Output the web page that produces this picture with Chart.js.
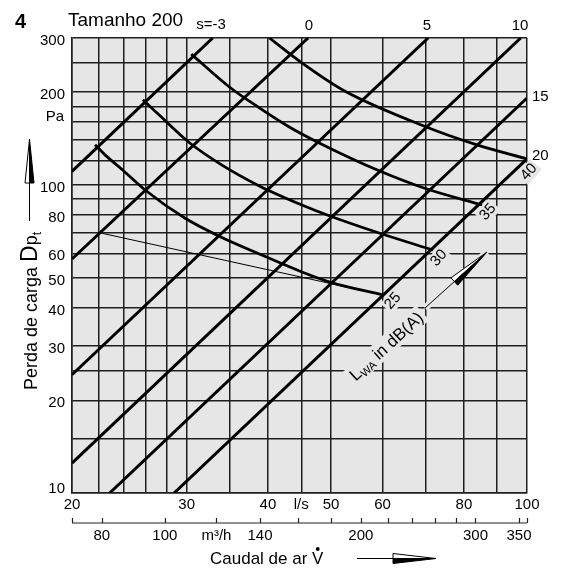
<!DOCTYPE html>
<html>
<head>
<meta charset="utf-8">
<script src="https://cdn.jsdelivr.net/npm/chart.js@4.4.1/dist/chart.umd.min.js"></script>
<style>
  body { margin: 0; background: #fff; }
  canvas { display: block; }
</style>
</head>
<body>
<canvas id="c" width="561" height="568"></canvas>
<script>
// grid lines (l/s, Pa)
const xGrid = [20, 22, 24, 26, 28, 30, 35, 40, 45, 50, 60, 70, 80, 90, 100];
const yGrid = [10, 15, 20, 25, 30, 40, 50, 60, 70, 80, 90, 100, 120, 140, 160, 180, 200, 250, 300];
const xLabels = [20, 30, 40, 50, 60, 80, 100];
const yLabels = [10, 20, 30, 40, 50, 60, 80, 100, 200, 300];
// second axis in m3/h
const m3hTicks = [72, 80, 100, 120, 140, 160, 180, 200, 220, 240, 260, 280, 300, 350, 360];
const m3hLabels = [80, 100, 140, 200, 300, 350];

const sLabels = ['s=-3', '0', '5', '10', '15', '20'];
const sM3 = [[20, 110.7], [32.9, 300]];
const s0 = [[20, 57.5], [46.1, 300]];
const s5 = [[20, 24.2], [70.5, 300]];
const s10 = [[20, 12.5], [97.8, 300]];
const s15 = [[22.85, 10], [100, 191.6]];
const s20 = [[28.7, 10], [100, 121.5]];

// LWA curves
const lwaLabels = ['25', '30', '35', '40'];
const lwa25 = [[21.7, 135], [22.5, 125], [23.9, 112], [25.9, 96.3], [29.8, 78.1], [33.6, 68.3], [38.8, 59.7], [45.1, 52.2], [49.8, 48.4], [60.1, 43.9]];
const lwa30 = [[25.7, 189], [27.2, 169], [30.2, 137.9], [34.0, 116], [38.8, 99.3], [45.1, 86.1], [49.8, 79.3], [59.9, 69.3], [71.7, 61.5]];
const lwa35 = [[30.5, 266], [34.9, 208], [38.8, 178], [43.2, 154], [47.6, 138], [59.4, 111], [70.2, 97], [85.3, 86.1]];
const lwa40 = [[40.2, 300], [45.1, 249], [52.2, 203], [70.2, 154], [83.8, 135], [100, 121.5]];
const thinLine = [[22.1, 69.9], [60.1, 43.9]];

const FONT = "'Liberation Sans', Arial, sans-serif";
const BG = '#e6e6e6';
const GRID = '#1e1e1e';

const pts = a => a.map(p => ({ x: p[0], y: p[1] }));
const line = (d, w) => ({ data: pts(d), showLine: true, pointRadius: 0, borderColor: '#000', borderWidth: w, fill: false });
const curve = d => Object.assign(line(d, 2.8), { cubicInterpolationMode: 'monotone' });

function txt(ctx, s, x, y, size, align, weight) {
  ctx.font = (weight || '') + ' ' + size + 'px ' + FONT;
  ctx.textAlign = align || 'center';
  ctx.textBaseline = 'middle';
  ctx.fillStyle = '#000';
  ctx.fillText(s, x, y);
}

function rotNum(ctx, s, x, y, ang, bgOnly) {
  ctx.save();
  ctx.translate(x, y);
  ctx.rotate(ang);
  ctx.font = '15px ' + FONT;
  const w = ctx.measureText(s).width;
  if (bgOnly) {
    ctx.fillStyle = BG;
    ctx.fillRect(-w / 2 - 2, -8, w + 4, 16);
  } else {
    txt(ctx, s, 0, 0, 15);
  }
  ctx.restore();
}

function arrowHead(ctx, tx, ty, ang, len, hw) {
  const c = Math.cos(ang), s = Math.sin(ang);
  const bx = tx - len * c, by = ty - len * s;
  const px = -s * hw, py = c * hw;
  ctx.lineWidth = 1;
  ctx.strokeStyle = '#000';
  ctx.fillStyle = '#fff';
  ctx.beginPath(); ctx.moveTo(tx, ty); ctx.lineTo(bx - px, by - py); ctx.lineTo(bx, by); ctx.closePath();
  ctx.fill(); ctx.stroke();
  ctx.fillStyle = '#000';
  ctx.beginPath(); ctx.moveTo(tx, ty); ctx.lineTo(bx + px, by + py); ctx.lineTo(bx, by); ctx.closePath();
  ctx.fill(); ctx.stroke();
}

const LWA_ANG = -0.74;
const lwaPos = [[393, 301], [439, 258], [488, 212], [529, 172]];

function lwaText(ctx, draw) {
  ctx.save();
  ctx.translate(386, 346);
  ctx.rotate(LWA_ANG);
  ctx.font = '17px ' + FONT;
  const w1 = ctx.measureText('L').width;
  const w3 = ctx.measureText(' in dB(A)').width;
  ctx.font = '11px ' + FONT;
  const w2 = ctx.measureText('WA').width;
  const tot = w1 + w2 + w3;
  let x = -tot / 2;
  if (!draw) {
    ctx.fillStyle = BG;
    ctx.fillRect(x - 3, -10, tot + 6, 20);
  } else {
    ctx.fillStyle = '#000';
    ctx.textAlign = 'left';
    ctx.textBaseline = 'alphabetic';
    ctx.font = '17px ' + FONT;
    ctx.fillText('L', x, 6); x += w1;
    ctx.font = '11px ' + FONT;
    ctx.fillText('WA', x, 9); x += w2;
    ctx.font = '17px ' + FONT;
    ctx.fillText(' in dB(A)', x, 6);
  }
  ctx.restore();
}

const decor = {
  id: 'decor',
  beforeDraw(chart) {
    const { ctx, chartArea: a } = chart;
    ctx.save();
    ctx.fillStyle = BG;
    ctx.fillRect(a.left, a.top, a.right - a.left, a.bottom - a.top);
    ctx.restore();
  },
  beforeDatasetsDraw(chart) {
    const ctx = chart.ctx;
    ctx.save();
    lwaPos.forEach((p, i) => rotNum(ctx, lwaLabels[i], p[0], p[1], -0.85, true));
    lwaText(ctx, false);
    // halo of the LWA arrow
    ctx.strokeStyle = BG;
    ctx.lineWidth = 7;
    ctx.beginPath(); ctx.moveTo(425, 308); ctx.lineTo(487, 252); ctx.stroke();
    ctx.restore();
  },
  afterDraw(chart) {
    const ctx = chart.ctx;
    const xs = chart.scales.x, ys = chart.scales.y;
    ctx.save();

    // y tick labels
    yLabels.forEach(v => {
      const dy = v === 10 ? -4 : 3;
      txt(ctx, String(v), 65, ys.getPixelForValue(v) + dy, 15, 'right');
    });
    txt(ctx, 'Pa', 64, 117, 15, 'right');

    // x tick labels (l/s)
    xLabels.forEach(v => txt(ctx, String(v), xs.getPixelForValue(v), 505, 15));
    txt(ctx, 'l/s', xs.getPixelForValue(45), 505, 15);

    // m3/h axis
    const yb = 523;
    ctx.strokeStyle = '#222';
    ctx.lineWidth = 1.2;
    ctx.beginPath();
    ctx.moveTo(xs.getPixelForValue(20), yb);
    ctx.lineTo(xs.getPixelForValue(100), yb);
    m3hTicks.forEach(m => {
      const x = Math.round(xs.getPixelForValue(m / 3.6)) + 0.5;
      ctx.moveTo(x, yb);
      ctx.lineTo(x, yb - 5);
    });
    ctx.stroke();
    m3hLabels.forEach(m => txt(ctx, String(m), xs.getPixelForValue(m / 3.6), 536, 15));
    txt(ctx, 'm³/h', xs.getPixelForValue(120 / 3.6), 536, 15);

    // titles
    txt(ctx, '4', 15, 22, 20, 'left', 'bold');
    txt(ctx, 'Tamanho 200', 68, 21, 19, 'left');
    txt(ctx, sLabels[0], 211, 25, 15);
    const topX = [309, 427, 520];
    topX.forEach((x, i) => txt(ctx, sLabels[i + 1], x, 26, 15));
    txt(ctx, sLabels[4], 532, 97, 15, 'left');
    txt(ctx, sLabels[5], 532, 156, 15, 'left');

    // LWA labels
    lwaPos.forEach((p, i) => rotNum(ctx, lwaLabels[i], p[0], p[1], -0.85, false));
    lwaText(ctx, true);
    ctx.strokeStyle = '#000';
    ctx.lineWidth = 1;
    ctx.beginPath(); ctx.moveTo(425, 308); ctx.lineTo(455, 281); ctx.stroke();
    arrowHead(ctx, 487, 252, Math.atan2(-56, 62), 44, 5);

    // x title
    ctx.font = '17px ' + FONT;
    ctx.textAlign = 'left';
    ctx.textBaseline = 'alphabetic';
    ctx.fillStyle = '#000';
    ctx.fillText('Caudal de ar V', 210, 564);
    const wv = ctx.measureText('Caudal de ar ').width + ctx.measureText('V').width / 2;
    ctx.beginPath(); ctx.arc(210 + wv, 549, 1.9, 0, Math.PI * 2); ctx.fill();
    ctx.strokeStyle = '#000';
    ctx.lineWidth = 1;
    ctx.beginPath(); ctx.moveTo(357, 558.5); ctx.lineTo(394, 558.5); ctx.stroke();
    arrowHead(ctx, 436, 558.5, 0, 43, 5);

    // y title
    ctx.save();
    ctx.translate(37, 390);
    ctx.rotate(-Math.PI / 2);
    ctx.textAlign = 'left';
    ctx.textBaseline = 'alphabetic';
    let x = 0;
    ctx.font = '18px ' + FONT;
    ctx.fillText('Perda de carga ', x, 0); x += ctx.measureText('Perda de carga ').width;
    ctx.font = '23px ' + FONT;
    ctx.fillText('D', x, 0); x += ctx.measureText('D').width;
    ctx.font = '18px ' + FONT;
    ctx.fillText('p', x, 0); x += ctx.measureText('p').width;
    ctx.font = '12px ' + FONT;
    ctx.fillText('t', x, 4);
    ctx.restore();
    ctx.beginPath(); ctx.moveTo(29.5, 221); ctx.lineTo(29.5, 182); ctx.stroke();
    arrowHead(ctx, 29.5, 139, -Math.PI / 2, 44, 4.5);

    ctx.restore();
  }
};

new Chart(document.getElementById('c'), {
  type: 'scatter',
  data: {
    datasets: [
      line(sM3, 3), line(s0, 3), line(s5, 3), line(s10, 3), line(s15, 3), line(s20, 3),
      curve(lwa25), curve(lwa30), curve(lwa35), curve(lwa40),
      line(thinLine, 1)
    ]
  },
  options: {
    responsive: false,
    animation: false,
    devicePixelRatio: 1,
    layout: { padding: { left: 72, right: 34, top: 38, bottom: 75 } },
    plugins: { legend: { display: false }, tooltip: { enabled: false } },
    scales: {
      x: {
        type: 'logarithmic', min: 20, max: 100,
        afterBuildTicks: s => { s.ticks = xGrid.map(v => ({ value: v })); },
        ticks: { display: false },
        grid: { color: GRID, lineWidth: 1.5, drawTicks: false },
        border: { color: GRID, width: 1.5 }
      },
      y: {
        type: 'logarithmic', min: 10, max: 300,
        afterBuildTicks: s => { s.ticks = yGrid.map(v => ({ value: v })); },
        ticks: { display: false },
        grid: { color: GRID, lineWidth: 1.5, drawTicks: false },
        border: { color: GRID, width: 1.5 }
      }
    }
  },
  plugins: [decor]
});
</script>
</body>
</html>
